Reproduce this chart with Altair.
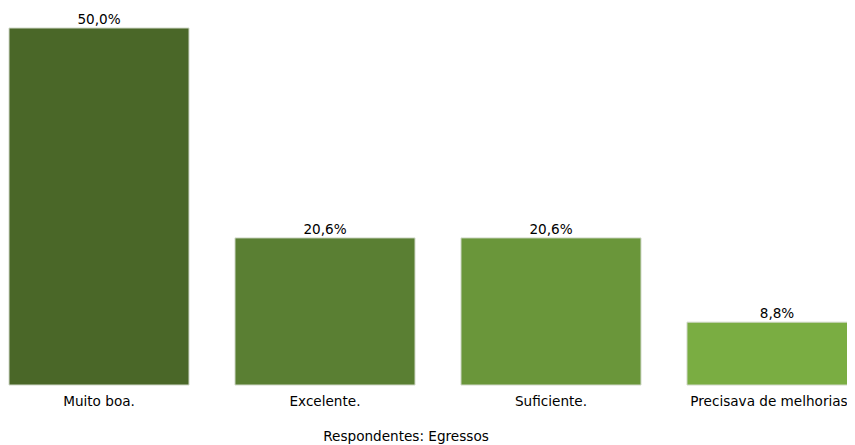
import altair as alt
import pandas as pd

categories = ["Muito boa.", "Excelente.", "Suficiente.", "Precisava de melhorias"]
values = [50.0, 20.6, 20.6, 8.8]
colors = ["#4a6728", "#5a7f33", "#6a963a", "#7aad42"]

df = pd.DataFrame({"cat": categories, "v": values})

x = alt.X("cat:N", sort=categories,
          scale=alt.Scale(range=[0, 858], paddingInner=0.2035, paddingOuter=0),
          axis=alt.Axis(title=None, labelAngle=0, domain=False, ticks=False, grid=False,
                        labelPadding=9, labelFontSize=13.6, labelFont="DejaVu Sans",
                        labelColor="#000000",
                        labelOffset={"condition": {"test": "datum.value === 'Precisava de melhorias'",
                                                   "value": -8},
                                     "value": 0}))
y = alt.Y("v:Q", scale=alt.Scale(domain=[0, 50], nice=False), axis=None)

bars = alt.Chart(df).mark_bar(stroke="#d0d8c8", strokeWidth=1).encode(
    x=x, y=y,
    color=alt.Color("cat:N", sort=categories,
                    scale=alt.Scale(domain=categories, range=colors), legend=None),
)

labels = alt.Chart(df).transform_calculate(
    lab="replace(format(datum.v, '.1f'), '.', ',') + '%'"
).mark_text(baseline="bottom", dy=-1, fontSize=13.6, font="DejaVu Sans", color="#000000").encode(
    x=x, y=y, text="lab:N"
)

chart = alt.layer(bars, labels).properties(
    width=838, height=357,
    background="#ffffff",
    autosize=alt.AutoSizeParams(type="none"),
    padding={"left": 1, "top": 20, "right": 0, "bottom": 60},
    title=alt.TitleParams("Respondentes: Egressos", orient="bottom", offset=22, dx=-22,
                          fontSize=13.6, fontWeight="normal", font="DejaVu Sans",
                          color="#000000"),
).configure_view(stroke=None)

chart.save("out.html", embed_options={"renderer": "svg", "actions": False})
